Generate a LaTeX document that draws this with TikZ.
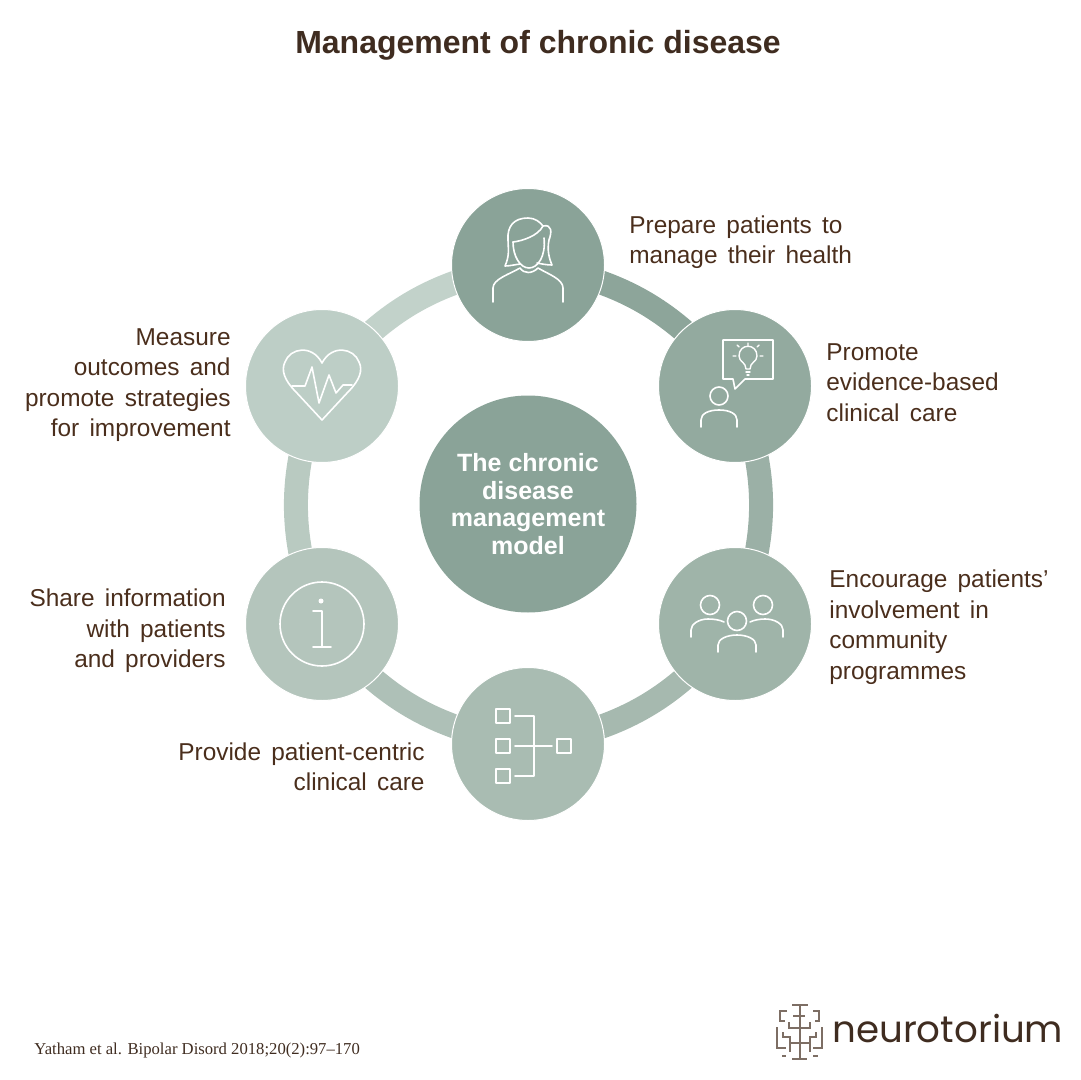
\documentclass[tikz,border=0pt]{standalone}
\usepackage{fontspec}
\setmainfont{Liberation Sans}
\newfontfamily\serifnote{Liberation Serif}
\newfontfamily\logofont{Poppins}
\usetikzlibrary{backgrounds}
\definecolor{txt}{HTML}{4A2E1C}
\definecolor{ttl}{HTML}{3F2C20}
\definecolor{cA}{HTML}{8AA398}
\definecolor{cB}{HTML}{93AA9F}
\definecolor{cC}{HTML}{9FB4A9}
\definecolor{cD}{HTML}{A9BCB2}
\definecolor{cE}{HTML}{B4C5BC}
\definecolor{cF}{HTML}{BDCEC6}
\definecolor{rA}{HTML}{8DA59A}
\definecolor{rB}{HTML}{9BB0A6}
\definecolor{rC}{HTML}{A6B9AF}
\definecolor{rD}{HTML}{AEC0B7}
\definecolor{rE}{HTML}{B9CAC1}
\definecolor{rF}{HTML}{C2D2CA}
\definecolor{logoline}{HTML}{7D6E64}
\tikzset{
  stage/.style={circle,minimum size=76.5pt,inner sep=0pt,draw=white,line width=0.5pt},
  hub/.style={circle,minimum size=108.5pt,inner sep=0pt,fill=cA,text=white,align=center,
    font=\fontsize{12.5}{13.8}\selectfont\bfseries},
  ringseg/.style={line width=12pt,bend left=22},
  lab/.style={inner sep=0pt,text=txt,font={\fontsize{12.2}{15.25}\selectfont\spaceskip=0.42em\relax}},
  labl/.style={lab,anchor=west,align=left},
  labr/.style={lab,anchor=east,align=right},
  ico/.style={draw=white,line width=0.8pt,line join=round,line cap=round},
  logol/.style={draw=logoline,line width=0.7pt}
}
\begin{document}
\begin{tikzpicture}[x=0.5pt,y=-0.5pt]
\useasboundingbox (0,0) rectangle (1080,1080);
\node[stage,fill=cA] (s1) at (528,265) {};
\node[stage,fill=cB] (s2) at (735,386) {};
\node[stage,fill=cC] (s3) at (735,624) {};
\node[stage,fill=cD] (s4) at (528,744) {};
\node[stage,fill=cE] (s5) at (322,624) {};
\node[stage,fill=cF] (s6) at (322,386) {};
\node[hub] (hub) at (528,504) {The chronic\\disease\\management\\model};
\begin{scope}[on background layer]
\draw[ringseg,draw=rA] (s1.center) to (s2.center);
\draw[ringseg,draw=rB] (s2.center) to (s3.center);
\draw[ringseg,draw=rC] (s3.center) to (s4.center);
\draw[ringseg,draw=rD] (s4.center) to (s5.center);
\draw[ringseg,draw=rE] (s5.center) to (s6.center);
\draw[ringseg,draw=rF] (s6.center) to (s1.center);
\end{scope}
% title and labels
\node[inner sep=0pt,text=ttl,font=\fontsize{16}{20}\selectfont\bfseries] (title) at (538,45) {Management of chronic disease};
\node[labl] (t1) at (629,242) {Prepare patients to\\manage their health};
\node[labl] (t2) at (826,382.5) {Promote\\evidence-based\\clinical care};
\node[labl] (t3) at (829,627) {Encourage patients’\\involvement in\\community\\programmes};
\node[labr] (t4) at (425,767) {Provide patient-centric\\clinical care};
\node[labr] (t5) at (226,631) {Share information\\with patients\\and providers};
\node[labr] (t6) at (231,385) {Measure\\outcomes and\\promote strategies\\for improvement};
\node[inner sep=0pt,anchor=west,text=ttl,font=\serifnote\fontsize{8.33}{10}\selectfont] (ref) at (34,1050) {Yatham et al. Bipolar Disord 2018;20(2):97–170};
\node[inner sep=0pt,anchor=west,text=ttl,font=\logofont\fontsize{18.6}{24}\selectfont] (brand) at (832,1029) {neurotorium};
% woman icon
\draw[ico] (493,302) -- (493,288) .. controls (493,279) and (510,274) .. (520,268) .. controls (524,274) and (532,274) .. (538,268) .. controls (548,274) and (563,279) .. (563,288) -- (563,302);
\draw[ico] (520,264) .. controls (513,265) and (509,266) .. (505,266) .. controls (510,255) and (508,248) .. (508,240) .. controls (507,226) and (514,218) .. (528,218) .. controls (535,218) and (540,222) .. (543,226) .. controls (552,224) and (552,232) .. (549,240) .. controls (547,250) and (549,258) .. (552,265) .. controls (547,265) and (542,264) .. (537,263);
\draw[ico] (513,242) .. controls (522,241) and (538,236) .. (543,226);
\draw[ico] (513,242) .. controls (513,256) and (520,268) .. (529,268) .. controls (538,268) and (546,256) .. (544,238);
% idea icon
\draw[ico] (745,379) -- (773,379) -- (773,340) -- (723,340) -- (723,379) -- (733,379) -- (735,389) -- cycle;
\draw[ico,line width=0.7pt] (746,369) .. controls (746,362) and (739,362) .. (739,356) .. controls (739,343) and (757,343) .. (757,356) .. controls (757,362) and (750,362) .. (750,369) -- cycle;
\draw[ico,line width=0.7pt] (746,372) -- (750,372) (747,375) -- (749,375);
\draw[ico,line width=0.7pt] (748,343) -- (748,346) (736,356) -- (733,356) (760,356) -- (763,356) (739,347) -- (737,345) (757,347) -- (759,345);
\draw[ico] (719,396) circle (9);
\draw[ico] (701,427) -- (701,420) .. controls (701,414) and (708,410) .. (719,410) .. controls (730,410) and (737,414) .. (737,420) -- (737,427);
% people icon
\draw[ico] (710,605) circle (9.5);
\draw[ico] (763,605) circle (9.5);
\draw[ico] (737,621) circle (9.5);
\draw[ico] (691,637) -- (691,630) .. controls (691,624) and (699,619) .. (708,619) .. controls (714,619) and (720,620) .. (724,622);
\draw[ico] (783,637) -- (783,630) .. controls (783,624) and (775,619) .. (765,619) .. controls (760,619) and (754,620) .. (750,622);
\draw[ico] (718,652) -- (718,645) .. controls (718,639) and (727,635) .. (737,635) .. controls (747,635) and (756,639) .. (756,645) -- (756,652);
% hierarchy icon
\draw[ico] (496,709) rectangle (510,723);
\draw[ico] (496,739) rectangle (510,753);
\draw[ico] (496,769) rectangle (510,783);
\draw[ico] (557,739) rectangle (571,753);
\draw[ico] (515,716) -- (534,716) -- (534,776) -- (515,776);
\draw[ico] (515,746) -- (552,746);
% info icon
\draw[ico] (322,624) circle (42);
\fill[white] (321,601) circle (2.5);
\draw[ico] (313,611) -- (322,611) -- (322,647);
\draw[ico] (313,647) -- (331,647);
% heart icon
\draw[ico] (322,420) -- (296,392) .. controls (284,380) and (281,370) .. (285,362) .. controls (290,348) and (312,344) .. (322,363) .. controls (332,344) and (354,348) .. (359,362) .. controls (363,370) and (360,380) .. (348,392) -- cycle;
\draw[ico] (292,386) -- (305,386) -- (312,367) -- (319,403) -- (329,375) -- (336,393) -- (343,385) -- (352,385);
% logo mark
\draw[logol] (792,1005) -- (808,1005) (800,1005) -- (800,1059) (793,1016) -- (805,1016) (792,1059) -- (807,1059);
\draw[logol] (787,1011) -- (780,1011) -- (780,1021) -- (785,1021);
\draw[logol] (813,1011) -- (819,1011) -- (819,1021) -- (815,1021);
\draw[logol] (789,1022) -- (789,1028) -- (810,1028) -- (810,1022);
\draw[logol] (777,1027) -- (777,1048) -- (786,1048);
\draw[logol] (822,1027) -- (822,1048) -- (813,1048);
\draw[logol] (783,1032) -- (783,1037) -- (790,1037) -- (790,1052);
\draw[logol] (816,1032) -- (816,1037) -- (810,1037) -- (810,1052);
\draw[logol] (790,1043) -- (810,1043);
\draw[logol] (782,1056) -- (786,1056) (813,1056) -- (818,1056);
\end{tikzpicture}
\end{document}
